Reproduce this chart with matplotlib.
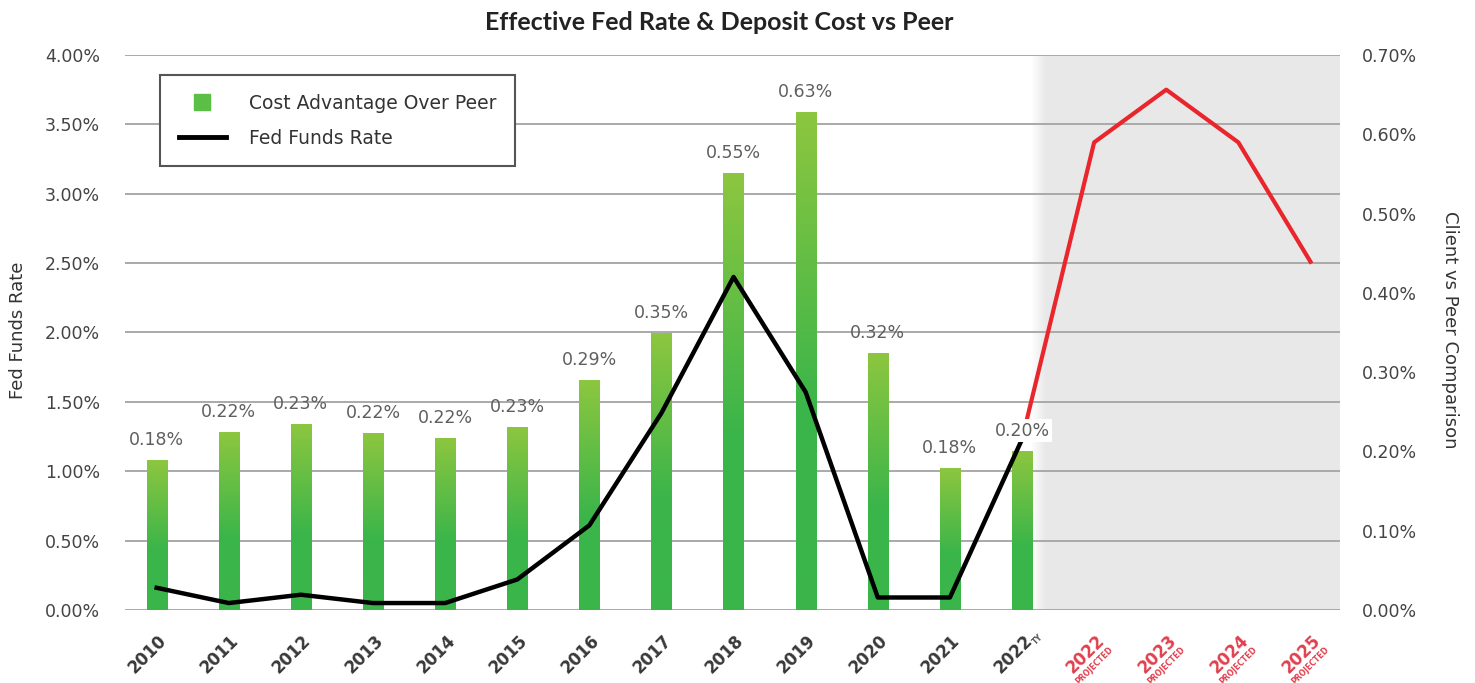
import numpy as np
import matplotlib.pyplot as plt
from matplotlib.lines import Line2D
from matplotlib.colors import to_rgb, LinearSegmentedColormap
from matplotlib.ticker import FuncFormatter
from matplotlib.transforms import ScaledTranslation, blended_transform_factory

# ---- data ----
years = ["2010", "2011", "2012", "2013", "2014", "2015", "2016", "2017",
         "2018", "2019", "2020", "2021", "2022", "2022", "2023", "2024", "2025"]
projected = [False] * 13 + [True] * 4

# cost advantage over peer (right axis, %)
cost_adv = [0.189, 0.224, 0.235, 0.223, 0.217, 0.231, 0.290, 0.349,
            0.551, 0.628, 0.324, 0.179, 0.201]
cost_labels = ["0.18%", "0.22%", "0.23%", "0.22%", "0.22%", "0.23%", "0.29%",
               "0.35%", "0.55%", "0.63%", "0.32%", "0.18%", "0.20%"]

# fed funds rate (left axis, %)
fed_rate = [0.16, 0.05, 0.11, 0.05, 0.05, 0.22, 0.61, 1.42, 2.40, 1.57,
            0.09, 0.09, 1.23]
fed_projected = [1.23, 3.37, 3.75, 3.37, 2.51]   # 2022 TY -> 2025

GREEN_TOP = "#8dc63f"
GREEN_BOT = "#3ab54a"
RED = "#e8262b"
TEXT = "#444444"

plt.rcParams['font.family'] = ['DejaVu Sans']

fig = plt.figure(figsize=(14.75, 6.83), dpi=100)
ax = fig.add_axes([0.0847, 0.1069, 0.8238, 0.8126])
axr = ax.twinx()   # bars, right scale
axl = ax.twinx()   # lines on top, left scale

x = np.arange(len(years))
n_hist = len(cost_adv)
xmin, xmax = -0.44, 16.41

# shaded projection zone with a soft left edge
gray_start = 12.12
ax.axvspan(gray_start + 0.2, xmax + 1, color="#e8e8e8", lw=0, zorder=0)
fade = LinearSegmentedColormap.from_list("fade", ["white", "#e8e8e8"])
ax.imshow(np.linspace(0, 1, 64).reshape(1, -1), cmap=fade, aspect="auto",
          extent=[gray_start, gray_start + 0.2, 0, 4], zorder=0)

# gridlines (left scale)
ax.set_yticks(np.arange(0, 4.01, 0.5))
ax.grid(axis="y", color="#a9a9a9", lw=1.4)
ax.set_axisbelow(True)
ax.set_ylim(0, 4)
ax.set_xlim(xmin, xmax)
ax.yaxis.set_major_formatter(FuncFormatter(lambda v, _: f"{v:.2f}%"))
ax.tick_params(axis="y", length=0, pad=18, labelsize=12.5, labelcolor=TEXT)
ax.set_xticks(x)
ax.set_xticklabels([])
ax.tick_params(axis="x", length=0)

# gradient bars
bars = axr.bar(x[:n_hist], cost_adv, width=0.28, color=GREEN_BOT, zorder=2)
t = np.linspace(0, 1, 200)
mix = np.clip(t / 0.6, 0, 1)[:, None]
grad = (1 - mix) * np.array(to_rgb(GREEN_TOP)) + mix * np.array(to_rgb(GREEN_BOT))
grad = grad[:, None, :]
for b in bars:
    x0, w, h = b.get_x(), b.get_width(), b.get_height()
    im = axr.imshow(grad, aspect="auto", extent=[x0, x0 + w, 0, h],
                    origin="upper", zorder=3, interpolation="bilinear")
    im.set_clip_path(b)
axr.set_ylim(0, 0.7)
axr.set_xlim(xmin, xmax)
axr.set_yticks(np.arange(0, 0.701, 0.1))
axr.yaxis.set_major_formatter(FuncFormatter(lambda v, _: f"{v:.2f}%"))
axr.tick_params(axis="y", length=0, pad=16, labelsize=12.5, labelcolor=TEXT)

# lines
axl.plot(x[:n_hist], fed_rate, color="black", lw=3.2, zorder=4)
axl.plot(x[n_hist - 1:], fed_projected, color=RED, lw=3.0, zorder=4)
axl.set_ylim(0, 4)
axl.set_xlim(xmin, xmax)
axl.set_yticks([])

# bar value labels (on top layer so the last one can mask the lines)
for i, (h, lbl) in enumerate(zip(cost_adv, cost_labels)):
    box = dict(facecolor="white", edgecolor="none", pad=1.5) if i == n_hist - 1 else None
    axl.annotate(lbl, (x[i], h), xycoords=axr.transData, xytext=(0, 8),
                 textcoords="offset points", ha="center", va="bottom",
                 fontsize=12.5, color="#5f5f5f", bbox=box, zorder=6)

for a in (ax, axr, axl):
    for s in a.spines.values():
        s.set_visible(False)

# x labels, rotated, with small tags
trans = blended_transform_factory(ax.transData, ax.transAxes)
def shift(dx, dy):
    return ScaledTranslation(dx / 100, dy / 100, fig.dpi_scale_trans)

for i, (yr, proj) in enumerate(zip(years, projected)):
    col = "#e0404e" if proj else "#383838"
    ax.text(x[i], 0, yr, transform=trans + shift(1, -21), rotation=45,
            ha="right", va="top", rotation_mode="anchor", fontsize=12,
            fontweight="bold", color=col)
    if proj:
        ax.text(x[i], 0, "PROJECTED", transform=trans + shift(14, -35),
                rotation=45, ha="right", va="top", rotation_mode="anchor",
                fontsize=5.5, fontweight="bold", color=col)
    elif i == n_hist - 1:
        ax.text(x[i], 0, "TY", transform=trans + shift(9, -30),
                rotation=45, ha="left", va="top", rotation_mode="anchor",
                fontsize=5.5, fontweight="bold", color="#555555")

# legend
handles = [Line2D([], [], marker="s", ls="none", ms=11, color="#5cbf45"),
           Line2D([], [], color="black", lw=3.5)]
leg = axl.legend(handles, ["Cost Advantage Over Peer", "Fed Funds Rate"],
                 loc="upper left", bbox_to_anchor=(0.0288, 0.964),
                 frameon=True, fancybox=False, edgecolor="#555555",
                 fontsize=13.5, handlelength=2.5, handletextpad=1.25,
                 labelspacing=0.85, borderpad=1.0, borderaxespad=0,
                 framealpha=1)
leg.get_frame().set_linewidth(1.5)
for txt in leg.get_texts():
    txt.set_color("#333333")

fig.text(0.4875, 0.967, "Effective Fed Rate & Deposit Cost vs Peer",
         ha="center", va="center", fontsize=18, fontweight="bold",
         color="#222222", family="Lato")
fig.text(0.012, 0.517, "Fed Funds Rate", rotation=90, ha="center",
         va="center", fontsize=13, color="#333333")
fig.text(0.983, 0.517, "Client vs Peer Comparison", rotation=270,
         ha="center", va="center", fontsize=13, color="#333333")

fig.savefig("out.png", dpi=100)
